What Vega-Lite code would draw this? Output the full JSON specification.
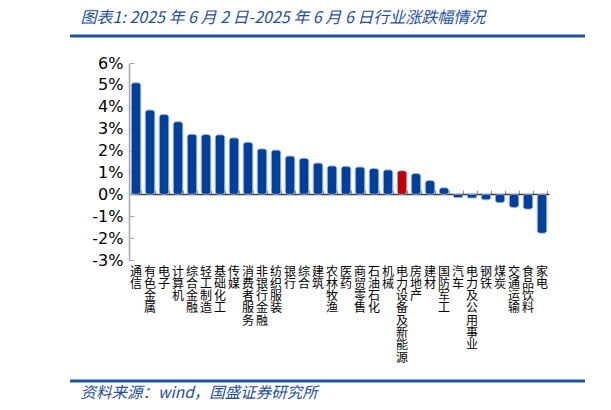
{
  "$schema": "https://vega.github.io/schema/vega-lite/v6.json",
  "padding": {"left": 68, "top": 9, "right": 5, "bottom": 5},
  "spacing": 6,
  "config": {
    "view": {"stroke": null}
  },
  "vconcat": [
    {
      "width": 515,
      "height": 13,
      "data": {"values": [{"line": 1}]},
      "title": {
        "text": "图表1:  2025 年 6 月 2 日-2025 年 6 月 6 日行业涨跌幅情况",
        "anchor": "start",
        "font": "Noto Sans CJK SC",
        "fontSize": 16,
        "fontStyle": "italic",
        "fontWeight": "normal",
        "color": "#1f4e9c",
        "offset": 9,
        "dx": 12
      },
      "mark": {"type": "rule", "color": "#1f52a0", "strokeWidth": 3},
      "encoding": {
        "y": {"field": "line", "type": "quantitative", "scale": {"domain": [0, 1]}, "axis": null}
      }
    },
    {
      "width": 515,
      "height": 197,
      "data": {
        "values": [
          {"industry": "通信", "change": 5.1, "hl": "n"},
          {"industry": "有色金属", "change": 3.85, "hl": "n"},
          {"industry": "电子", "change": 3.65, "hl": "n"},
          {"industry": "计算机", "change": 3.32, "hl": "n"},
          {"industry": "综合金融", "change": 2.75, "hl": "n"},
          {"industry": "轻工制造", "change": 2.73, "hl": "n"},
          {"industry": "基础化工", "change": 2.72, "hl": "n"},
          {"industry": "传媒", "change": 2.58, "hl": "n"},
          {"industry": "消费者服务", "change": 2.38, "hl": "n"},
          {"industry": "非银行金融", "change": 2.08, "hl": "n"},
          {"industry": "纺织服装", "change": 2.02, "hl": "n"},
          {"industry": "银行", "change": 1.75, "hl": "n"},
          {"industry": "综合", "change": 1.65, "hl": "n"},
          {"industry": "建筑", "change": 1.43, "hl": "n"},
          {"industry": "农林牧渔", "change": 1.3, "hl": "n"},
          {"industry": "医药", "change": 1.28, "hl": "n"},
          {"industry": "商贸零售", "change": 1.25, "hl": "n"},
          {"industry": "石油石化", "change": 1.18, "hl": "n"},
          {"industry": "机械", "change": 1.12, "hl": "n"},
          {"industry": "电力设备及新能源", "change": 1.08, "hl": "y"},
          {"industry": "房地产", "change": 0.95, "hl": "n"},
          {"industry": "建材", "change": 0.63, "hl": "n"},
          {"industry": "国防军工", "change": 0.3, "hl": "n"},
          {"industry": "汽车", "change": -0.15, "hl": "n"},
          {"industry": "电力及公用事业", "change": -0.17, "hl": "n"},
          {"industry": "钢铁", "change": -0.25, "hl": "n"},
          {"industry": "煤炭", "change": -0.38, "hl": "n"},
          {"industry": "交通运输", "change": -0.6, "hl": "n"},
          {"industry": "食品饮料", "change": -0.68, "hl": "n"},
          {"industry": "家电", "change": -1.78, "hl": "n"}
        ]
      },
      "resolve": {"axis": {"x": "independent", "y": "independent"}},
      "layer": [
        {
          "mark": {"type": "bar", "cornerRadius": 3, "stroke": "#8aa6d8", "strokeWidth": 1, "strokeOpacity": 0.8},
          "encoding": {
            "x": {
              "field": "industry",
              "type": "nominal",
              "sort": null,
              "scale": {"range": [59, 479], "paddingInner": 0.32, "paddingOuter": 0.16},
              "axis": {
                "orient": "bottom",
                "title": null,
                "domain": false,
                "ticks": false,
                "labelAngle": 0,
                "labelExpr": "split(datum.label, '')",
                "labelFont": "Noto Sans CJK SC",
                "labelFontSize": 12,
                "labelLineHeight": 12.3,
                "labelBaseline": "top",
                "labelPadding": 6,
                "labelColor": "#000000",
                "labelOverlap": false,
                "labelBound": false
              }
            },
            "y": {
              "field": "change",
              "type": "quantitative",
              "scale": {"domain": [-3, 6], "nice": false},
              "axis": {
                "title": null,
                "offset": -59,
                "values": [-3, -2, -1, 0, 1, 2, 3, 4, 5, 6],
                "labelExpr": "datum.value + '%'",
                "labelOverlap": false,
                "labelFlush": false,
                "grid": false,
                "domain": true,
                "domainColor": "#a6a6a6",
                "domainWidth": 1.5,
                "ticks": true,
                "tickColor": "#a6a6a6",
                "tickSize": -5,
                "labelFont": "DejaVu Sans",
                "labelFontSize": 16,
                "labelColor": "#000000",
                "labelPadding": 11
              }
            },
            "color": {
              "field": "hl",
              "type": "nominal",
              "scale": {"domain": ["n", "y"], "range": ["#00409a", "#c00000"]},
              "legend": null
            }
          }
        },
        {
          "mark": {"type": "bar", "opacity": 0},
          "encoding": {
            "x": {
              "field": "industry",
              "type": "nominal",
              "sort": null,
              "axis": {
                "orient": "top",
                "offset": -131,
                "title": null,
                "labels": false,
                "domain": true,
                "domainColor": "#404040",
                "domainWidth": 1.5,
                "ticks": true,
                "tickBand": "extent",
                "tickSize": 4,
                "tickColor": "#909090"
              }
            },
            "y": {"field": "change", "type": "quantitative", "axis": null}
          }
        }
      ]
    },
    {
      "width": 515,
      "height": 11,
      "data": {"values": [{"line": 0}]},
      "title": {
        "text": "资料来源：wind，国盛证券研究所",
        "orient": "bottom",
        "anchor": "start",
        "font": "Noto Sans CJK SC",
        "fontSize": 15.5,
        "fontStyle": "italic",
        "fontWeight": "normal",
        "color": "#1f4e9c",
        "offset": 3,
        "dx": 12
      },
      "mark": {"type": "rule", "color": "#1f52a0", "strokeWidth": 3},
      "encoding": {
        "y": {"field": "line", "type": "quantitative", "scale": {"domain": [0, 1]}, "axis": null}
      }
    }
  ]
}
